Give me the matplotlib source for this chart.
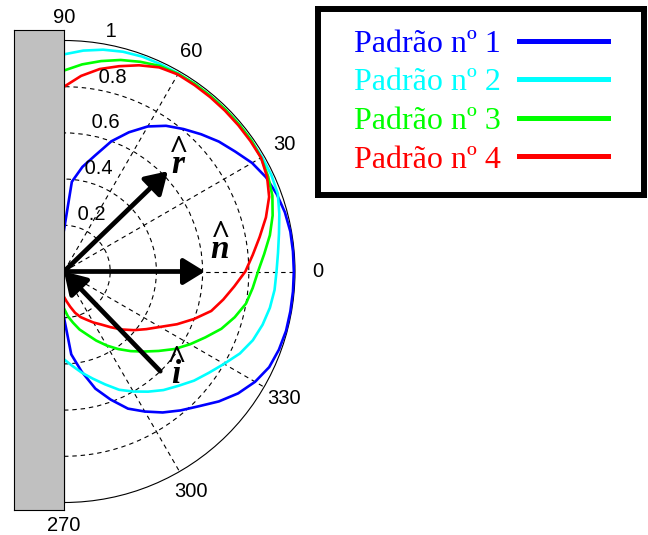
import numpy as np
import matplotlib
matplotlib.use("Agg")
import matplotlib.pyplot as plt
from matplotlib.lines import Line2D
from matplotlib.ticker import NullFormatter

# ---------------- DATA ----------------
angles_deg = [-90, -85, -80, -75, -70, -65, -60, -55, -50, -45, -40, -35, -30,
              -25, -20, -15, -10, -5, 0, 5, 10, 15, 20, 25, 30, 35, 40, 45,
              50, 55, 60, 65, 70, 75, 80, 85, 90]

padrao_1 = [0.20, 0.36, 0.44, 0.525, 0.59, 0.655, 0.70, 0.745, 0.785, 0.825,
            0.875, 0.92, 0.955, 0.98, 0.99, 0.995, 0.995, 0.995, 0.995, 0.995,
            0.995, 0.99, 0.98, 0.965, 0.94, 0.905, 0.875, 0.84, 0.805, 0.77,
            0.725, 0.665, 0.60, 0.52, 0.46, 0.39, 0.18]
padrao_2 = [0.38, 0.41, 0.445, 0.48, 0.52, 0.565, 0.60, 0.635, 0.67, 0.70,
            0.735, 0.765, 0.80, 0.84, 0.87, 0.89, 0.905, 0.915, 0.92, 0.93,
            0.945, 0.965, 0.985, 0.99, 0.99, 0.99, 0.99, 0.99, 0.99, 0.99,
            0.99, 0.99, 0.99, 0.985, 0.975, 0.96, 0.94]
padrao_3 = [0.16, 0.195, 0.225, 0.26, 0.29, 0.33, 0.37, 0.41, 0.45, 0.49,
            0.535, 0.585, 0.63, 0.675, 0.725, 0.765, 0.80, 0.82, 0.84, 0.87,
            0.905, 0.935, 0.96, 0.975, 0.985, 0.99, 0.99, 0.99, 0.99, 0.99,
            0.988, 0.982, 0.966, 0.948, 0.925, 0.90, 0.87]
padrao_4 = [0.11, 0.13, 0.155, 0.185, 0.21, 0.23, 0.255, 0.28, 0.315, 0.355,
            0.395, 0.435, 0.48, 0.54, 0.60, 0.66, 0.70, 0.74, 0.785, 0.82,
            0.86, 0.905, 0.945, 0.97, 0.985, 0.985, 0.985, 0.985, 0.985, 0.985,
            0.985, 0.975, 0.95, 0.92, 0.89, 0.85, 0.80]

series = [padrao_1, padrao_2, padrao_3, padrao_4]
series_names = ["Padrão nº 1", "Padrão nº 2", "Padrão nº 3", "Padrão nº 4"]
series_colors = ["#0000ff", "#00ffff", "#00ff00", "#ff0000"]

r_grid = [0.2, 0.4, 0.6, 0.8]
r_labels = ["0.2", "0.4", "0.6", "0.8", "1"]
r_label_values = [0.2, 0.4, 0.6, 0.8, 1.0]
theta_grid = [-60, -30, 0, 30, 60]
theta_label_angles = [90, 60, 30, 0, -30, -60, -90]
theta_labels = ["90", "60", "30", "0", "330", "300", "270"]

# unit vectors: reflected, normal, incident
vec_letters = ["r", "n", "i"]
vec_angles = [44, 0, -46]
vec_lengths = [0.625, 0.61, 0.60]
vec_into_wall = [False, False, True]
letter_angles = [38.75, 2.4, -46.6]
letter_radii = [0.633, 0.676, 0.706]

# ---------------- FIGURE ----------------
fig = plt.figure(figsize=(6.48, 5.35), dpi=100)

# square box around the full circle; only the right half (wedge) is drawn
ax = fig.add_axes([(179.5 - 231) / 648, 32.5 / 535, 462 / 648, 462 / 535],
                  projection="polar")
ax.set_thetamin(-90)
ax.set_thetamax(90)
ax.set_rlim(0, 1)
ax.set_thetagrids(theta_grid)
ax.set_rgrids(r_grid)
ax.xaxis.set_major_formatter(NullFormatter())
ax.yaxis.set_major_formatter(NullFormatter())
ax.tick_params(length=0)
ax.grid(True, color="k", lw=0.8, linestyle=(0, (4, 3.5)))
ax.spines["polar"].set_linewidth(0.8)
for s in ["start", "end", "inner"]:
    ax.spines[s].set_visible(False)

for vals, name, color in zip(series, series_names, series_colors):
    ax.plot(np.deg2rad(angles_deg), vals, color=color, lw=1.9, label=name,
            clip_on=False, zorder=3)

# grid labels (MATLAB polar style)
tick_font = dict(family="Liberation Sans", size=14.5)
for a, lbl in zip(theta_label_angles, theta_labels):
    ax.text(np.deg2rad(a), 1.1, lbl, ha="center", va="center", **tick_font)
for rv, lbl in zip(r_label_values, r_labels):
    ax.text(np.deg2rad(81), rv + 0.01, " " + lbl, ha="left", va="bottom", **tick_font)

# arrows
for ang, length, into in zip(vec_angles, vec_lengths, vec_into_wall):
    far = (np.deg2rad(ang), length)
    tip, tail = ((0, 0), far) if into else (far, (0, 0))
    ax.annotate("", xy=tip, xytext=tail,
                arrowprops=dict(arrowstyle="-|>,head_length=0.65,head_width=0.4",
                                color="k", lw=3.4, mutation_scale=20,
                                shrinkA=0, shrinkB=0),
                zorder=5)

# vector names with hats
for letter, la, lr in zip(vec_letters, letter_angles, letter_radii):
    ax.text(np.deg2rad(la), lr, "^\n" + letter, ha="center", va="bottom",
            size=24, linespacing=0.35, zorder=6, family="Liberation Serif",
            style="italic", weight="bold")

# wall
wall = fig.add_axes([14 / 648, 25 / 535, 50 / 648, 480 / 535])
wall.set_facecolor("#c0c0c0")
wall.set_xticks([])
wall.set_yticks([])
for sp in wall.spines.values():
    sp.set_linewidth(0.8)

# legend box
leg_ax = fig.add_axes([318 / 648, 340 / 535, 326 / 648, 186 / 535])
leg_ax.set_xticks([])
leg_ax.set_yticks([])
for sp in leg_ax.spines.values():
    sp.set_linewidth(4.3)
handles = [Line2D([], [], color=c, lw=3.6) for c in series_colors]
leg_ax.legend(handles, series_names, loc="center", frameon=False,
              markerfirst=False, labelcolor="linecolor",
              prop=dict(family="Liberation Serif", size=23),
              handlelength=2.8, handletextpad=0.55, labelspacing=0.29,
              borderaxespad=0)

fig.savefig("out.png", dpi=100)
